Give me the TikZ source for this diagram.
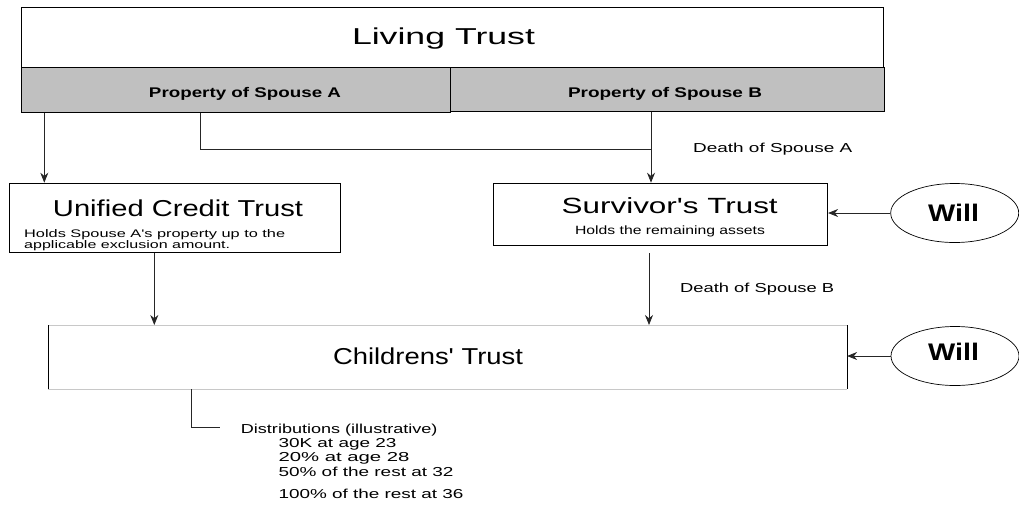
\documentclass[tikz,border=0pt]{standalone}
\usepackage{fontspec}
\setmainfont{Liberation Sans}
\usepackage{graphicx}
\usetikzlibrary{arrows.meta,shapes.geometric,calc}
\newcommand{\sw}[2]{\resizebox{#1pt}{\height}{#2}}
\newcommand{\fs}[1]{\fontsize{#1}{#1}\selectfont}
\begin{document}
\begin{tikzpicture}[x=1pt,y=-1pt,
  box/.style={draw=black, line width=0.8pt, inner sep=0pt, anchor=north west},
  conn/.style={draw=black!85, line width=0.8pt},
  arr/.style={conn, -{Stealth[length=10pt,width=8pt]}},
  txt/.style={inner sep=0pt, anchor=base},
  txtw/.style={inner sep=0pt, anchor=base west},
  willnode/.style={draw=black, line width=0.7pt, ellipse, minimum width=128pt, minimum height=59pt, inner sep=0pt}
]
\useasboundingbox (0,0) rectangle (1019,504);
% boxes
\node[box, minimum width=862pt, minimum height=60pt] (living) at (20.7,7.3) {};
\node[box, fill={rgb,255:red,192;green,192;blue,192}, minimum width=429.3pt, minimum height=44.4pt] (propA) at (20.7,67.3) {};
\node[box, fill={rgb,255:red,192;green,192;blue,192}, minimum width=434pt, minimum height=43.4pt] (propB) at (450,67.3) {};
\node[box, minimum width=331pt, minimum height=69.6pt] (uct) at (9,182.7) {};
\node[box, minimum width=334pt, minimum height=62.3pt] (surv) at (493.3,182.7) {};
\node[inner sep=0pt, anchor=north west, minimum width=798.4pt, minimum height=64pt] (child) at (48.3,325) {};
\draw[draw={rgb,255:red,200;green,200;blue,200}, line width=1pt] (child.north west) -- (child.north east);
\draw[draw={rgb,255:red,200;green,200;blue,200}, line width=1pt] (child.south west) -- (child.south east);
\draw[black, line width=1pt] (child.north west) -- (child.south west);
\draw[black, line width=1pt] (child.north east) -- (child.south east);
\node[willnode] (will1) at (954.7,213) {};
\node[willnode] (will2) at (955,356) {};
% texts
\node[txt] (tLiving) at (443.5,44) {\fs{23}\sw{183}{Living Trust}};
\node[txt] (tPropA) at (245,97) {\fs{14}\bfseries\sw{192}{Property of Spouse A}};
\node[txt] (tPropB) at (665,97) {\fs{14}\bfseries\sw{194}{Property of Spouse B}};
\node[txtw] (tDeathA) at (693,152) {\fs{13}\sw{159}{Death of Spouse A}};
\node[txt] (tUct) at (178,216) {\fs{23}\sw{250}{Unified Credit Trust}};
\node[txtw] (tUct1) at (24,237.5) {\fs{11}\sw{261}{Holds Spouse A\textquotesingle s property up to the}};
\node[txtw] (tUct2) at (24,248.3) {\fs{11}\sw{206}{applicable exclusion amount.}};
\node[txt] (tSurv) at (669.7,213) {\fs{22}\sw{216}{Survivor\textquotesingle s Trust}};
\node[txt] (tSurv1) at (670,234) {\fs{12}\sw{190}{Holds the remaining assets}};
\node[txt] (tWill1) at (953.5,221.7) {\fs{24}\bfseries\sw{51}{Will}};
\node[txt] (tWill2) at (953.5,360) {\fs{24}\bfseries\sw{51}{Will}};
\node[txtw] (tDeathB) at (680,292.3) {\fs{13}\sw{154}{Death of Spouse B}};
\node[txt] (tChild) at (428,364) {\fs{23}\sw{190}{Childrens\textquotesingle\ Trust}};
\node[txtw] (tD0) at (240.7,433.3) {\fs{13}\sw{196.6}{Distributions (illustrative)}};
\node[txtw] (tD1) at (278.3,447.3) {\fs{13}\sw{118}{30K at age 23}};
\node[txtw] (tD2) at (278.3,461) {\fs{13}\sw{131}{20\% at age 28}};
\node[txtw] (tD3) at (278.3,476.7) {\fs{13}\sw{175}{50\% of the rest at 32}};
\node[txtw] (tD4) at (278.3,498.3) {\fs{13}\sw{185}{100\% of the rest at 36}};
% connector guides
\coordinate (cA) at (44.3,0);
\coordinate (cB) at (200.7,0);
\coordinate (jA) at (651,149);
\coordinate (cC) at (154.3,0);
\coordinate (cE) at (191,0);
\coordinate (cF) at (220,427.7);
\coordinate (sB) at (649,253.3);
% connectors
\draw[arr] (propA.south -| cA) -- (uct.north -| cA);
\draw[conn] (propA.south -| cB) |- (jA);
\draw[arr] (propB.south -| jA) -- (surv.north -| jA);
\draw[arr] (will1.west) -- (will1.west -| surv.east);
\draw[arr] (uct.south -| cC) -- (child.north -| cC);
\draw[arr] (sB) -- (child.north -| sB);
\draw[arr] (will2.west) -- (will2.west -| child.east);
\draw[conn] (child.south -| cE) |- (cF);
\end{tikzpicture}
\end{document}
